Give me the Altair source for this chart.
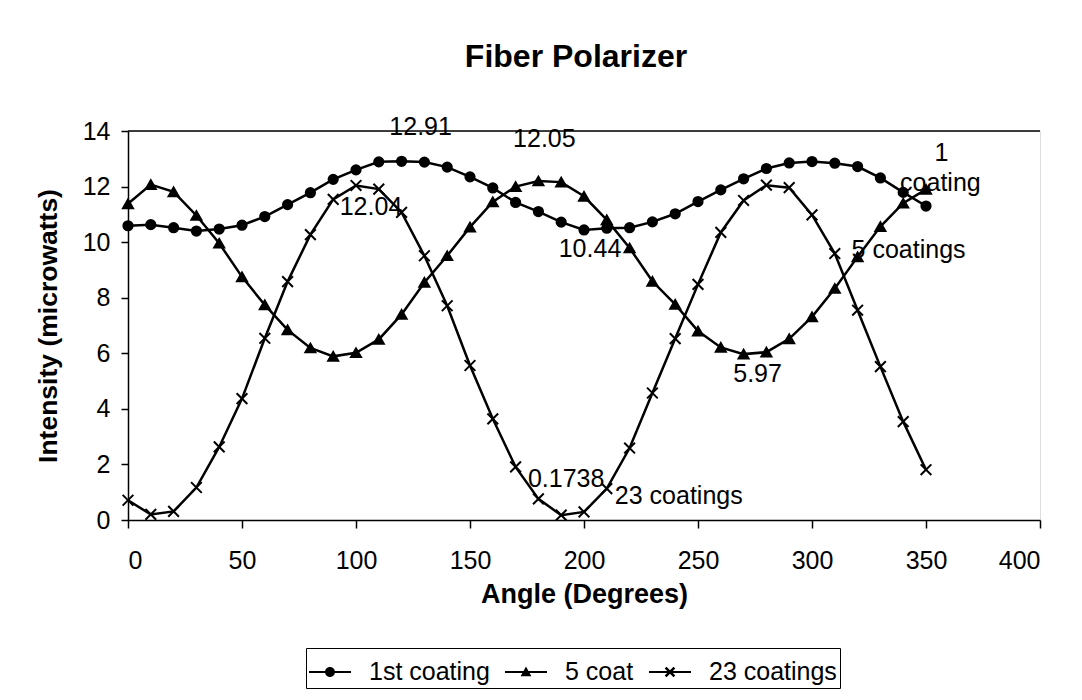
import altair as alt
import pandas as pd

# ---------------- data ----------------
angles = list(range(0, 360, 10))

first_coating = [10.59, 10.63, 10.52, 10.40, 10.47, 10.61, 10.92, 11.35, 11.78, 12.26,
                 12.60, 12.89, 12.91, 12.88, 12.70, 12.35, 11.95, 11.43, 11.10, 10.72,
                 10.44, 10.50, 10.52, 10.73, 11.02, 11.46, 11.88, 12.28, 12.65, 12.85,
                 12.90, 12.84, 12.72, 12.31, 11.79, 11.30]

five_coat = [11.38, 12.07, 11.81, 10.96, 9.96, 8.75, 7.74, 6.84, 6.19, 5.89,
             6.02, 6.50, 7.40, 8.55, 9.51, 10.54, 11.45, 12.00, 12.20, 12.16,
             11.65, 10.80, 9.79, 8.59, 7.76, 6.80, 6.21, 5.97, 6.04, 6.52,
             7.31, 8.33, 9.47, 10.56, 11.40, 11.90]

twenty_three = [0.71, 0.20, 0.31, 1.17, 2.63, 4.37, 6.54, 8.58, 10.27, 11.54,
                12.04, 11.91, 11.07, 9.51, 7.71, 5.56, 3.64, 1.91, 0.76, 0.1738,
                0.29, 1.13, 2.59, 4.57, 6.53, 8.48, 10.35, 11.50, 12.05, 11.96,
                10.98, 9.59, 7.55, 5.52, 3.54, 1.81]

series_names = ["1st coating", "5 coat", "23 coatings"]
x_ticks = [0, 50, 100, 150, 200, 250, 300, 350, 400]
y_ticks = [0, 2, 4, 6, 8, 10, 12, 14]

# annotation texts and the data point each one belongs to
ann_texts = ["12.91", "12.05", "12.04", "10.44", "5.97", "0.1738",
             "23 coatings", "5 coatings", "1", "coating"]
ann_series = ["1st coating", "5 coat", "23 coatings", "1st coating", "5 coat",
              "23 coatings", "23 coatings", "5 coat", "1st coating", "1st coating"]
ann_angles = [120, 180, 100, 200, 270, 190, 210, 320, 330, 330]

# ---------------- build tables ----------------
series_values = {"1st coating": first_coating, "5 coat": five_coat, "23 coatings": twenty_three}
rows = []
for name in series_names:
    for a, v in zip(angles, series_values[name]):
        rows.append({"angle": a, "intensity": v, "series": name})
df = pd.DataFrame(rows)

FONT = "Liberation Sans"
X_PATH = "M-1,-1L1,1M-1,1L1,-1"

# legend symbols: a line with the marker on it, drawn only with filled areas
LINE_BAR = "M-1.05,-0.05H1.05V0.05H-1.05Z"
R = 0.25
LEG_CIRCLE = LINE_BAR + f"M{R},0A{R},{R} 0 1 1 -{R},0A{R},{R} 0 1 1 {R},0Z"
S = 0.27
LEG_TRI = LINE_BAR + f"M0,{-S}L{S},{S * 0.8}L{-S},{S * 0.8}Z"
A, W = 0.22, 0.045
LEG_X = (LINE_BAR
         + f"M{-A + W},{-A - W}L{A + W},{A - W}L{A - W},{A + W}L{-A - W},{-A + W}Z"
         + f"M{-A + W},{A + W}L{-A - W},{A - W}L{A - W},{-A - W}L{A + W},{-A + W}Z")

x_enc = alt.X(
    "angle:Q",
    scale=alt.Scale(domain=[0, 400], nice=False, zero=False),
    axis=alt.Axis(values=x_ticks, title="Angle (Degrees)", grid=False,
                  tickSize=8, labelPadding=20, titlePadding=8,
                  labelFontSize=25, titleFontSize=27, labelFont=FONT, titleFont=FONT,
                  titleFontWeight="bold", labelColor="black", titleColor="black",
                  domainColor="black", tickColor="black", domainWidth=1.5, tickWidth=1.5),
)
y_enc = alt.Y(
    "intensity:Q",
    scale=alt.Scale(domain=[0, 14], nice=False),
    axis=alt.Axis(values=y_ticks, title="Intensity (microwatts)", grid=False,
                  tickSize=7, labelPadding=11, titlePadding=20,
                  labelFontSize=25, titleFontSize=26.5, labelFont=FONT, titleFont=FONT,
                  titleFontWeight="bold", labelColor="black", titleColor="black",
                  domainColor="black", tickColor="black", domainWidth=1.5, tickWidth=1.5),
)

base = alt.Chart(df)

lines = base.mark_line(color="black", strokeWidth=2.5).encode(
    x=x_enc, y=y_enc, detail="series:N"
)

points = base.mark_point(filled=True, fill="black", stroke="black",
                         strokeWidth=2, opacity=1).encode(
    x="angle:Q",
    y="intensity:Q",
    shape=alt.Shape("series:N",
                    scale=alt.Scale(domain=series_names,
                                    range=["circle", "triangle-up", X_PATH]),
                    legend=None),
    size=alt.Size("series:N",
                  scale=alt.Scale(domain=series_names, range=[85, 115, 150]),
                  legend=None),
)

legend_layer = base.mark_point(filled=True, fill="black", opacity=1).encode(
    x="angle:Q",
    y="intensity:Q",
    shape=alt.Shape("series:N",
                    scale=alt.Scale(domain=series_names,
                                    range=[LEG_CIRCLE, LEG_TRI, LEG_X]),
                    legend=alt.Legend(title=None, orient="none", legendX=178, legendY=517,
                                      direction="horizontal", columns=3,
                                      strokeColor="black", padding=3,
                                      labelFontSize=25, labelFont=FONT, labelColor="black",
                                      symbolSize=1600, symbolFillColor="black",
                                      symbolOpacity=1,
                                      labelOffset=18, columnPadding=12)),
).transform_filter("datum.angle < 0")

top_line = alt.Chart(pd.DataFrame({"v": [14]})).mark_rule(
    color="black", strokeWidth=1.5).encode(y=alt.Y("v:Q"))

# annotations anchored on their data points
ann_offsets = [(19, -26), (6, -34), (15, 30), (6, 27), (14, 28), (5, -28),
               (72, 15), (51, 1), (61, -17), (60, 13)]
ann_layers = []
for txt, ser, ang, (dx, dy) in zip(ann_texts, ann_series, ann_angles, ann_offsets):
    val = series_values[ser][angles.index(ang)]
    adf = pd.DataFrame({"angle": [ang], "intensity": [val], "label": [txt]})
    ann_layers.append(
        alt.Chart(adf).mark_text(font=FONT, fontSize=25, color="black", align="center",
                                 baseline="alphabetic", dx=dx, dy=dy).encode(
            x="angle:Q", y="intensity:Q", text="label:N")
    )

chart = alt.layer(top_line, lines, points, legend_layer, *ann_layers).resolve_scale(
    shape="independent", size="independent"
).properties(
    width=912,
    height=389,
    title=alt.TitleParams("Fiber Polarizer", font=FONT, fontSize=32, fontWeight="bold",
                          color="black", anchor="middle", frame="group", offset=41, dx=-8),
    autosize=alt.AutoSizeParams(type="none"),
    padding={"left": 120, "top": 123, "right": 30, "bottom": 170},
).configure_view(stroke=None).configure(background="white")

chart.save("out.html", embed_options={"renderer": "svg", "actions": False})
